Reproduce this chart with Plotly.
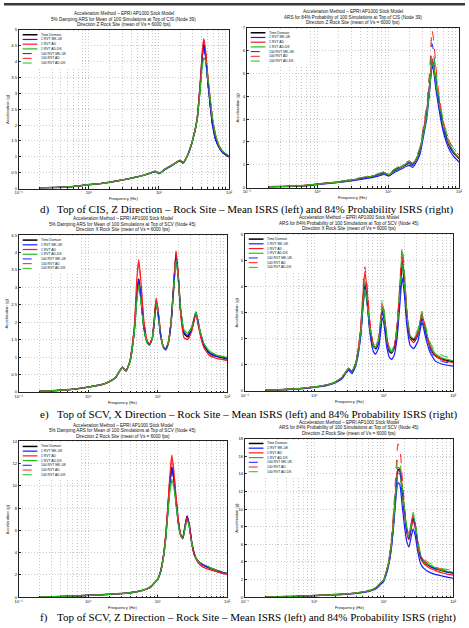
import plotly.graph_objects as go

W, H = 469, 628

NAMES = ["Time Domain", "1 RVT MK-UK", "1 RVT AD", "1 RVT AD-DK",
         "100 RVT MK-UK", "100 RVT AD", "100 RVT AD-DK"]
COLORS = ["#000000", "#1a1aff", "#ff1a1a", "#22bb22", "#1a1aff", "#ff1a1a", "#22bb22"]
DASHES = ["solid", "solid", "solid", "solid", "dash", "dash", "dash"]
WIDTHS = [1.5, 1.2, 1.2, 1.2, 1.0, 1.0, 1.0]

X_TICKS = [0.1, 1, 10, 100]
X_TICKTEXT = ["10\u207b\u00b9", "10\u2070", "10\u00b9", "10\u00b2"]
X_MINOR = [m * d for d in (0.1, 1, 10) for m in range(2, 10)]

# ---------------- d) Top of CIS, Z direction ----------------
F_D_MEAN = [0.2, 0.3, 0.5, 0.7, 1, 1.5, 2, 3, 5, 7, 8.8, 10.2, 12, 15, 18, 20, 22, 25,
            30, 35, 39, 41.5, 43.5, 46, 49, 53, 58, 64, 72, 82, 100]
D_MEAN_TD = [0.02, 0.03, 0.05, 0.08, 0.12, 0.16, 0.20, 0.27, 0.37, 0.46, 0.54, 0.48, 0.60, 0.72, 0.83, 0.88, 0.81, 1.00,
             1.50, 2.18, 3.35, 4.20, 4.55, 4.25, 3.55, 2.80, 2.05, 1.58, 1.30, 1.13, 1.00]
D_MEAN_MK1 = [0.02, 0.03, 0.05, 0.08, 0.12, 0.16, 0.20, 0.27, 0.37, 0.46, 0.53, 0.47, 0.59, 0.71, 0.82, 0.87, 0.80, 0.99,
              1.49, 2.17, 3.33, 4.15, 4.50, 4.20, 3.50, 2.75, 2.00, 1.55, 1.28, 1.12, 1.00]
D_MEAN_AD1 = [0.02, 0.03, 0.05, 0.08, 0.12, 0.16, 0.20, 0.27, 0.37, 0.46, 0.54, 0.48, 0.60, 0.73, 0.84, 0.89, 0.82, 1.01,
              1.51, 2.20, 3.40, 4.30, 4.72, 4.40, 3.70, 2.95, 2.20, 1.70, 1.35, 1.16, 1.02]
D_MEAN_DK1 = [0.02, 0.03, 0.05, 0.08, 0.12, 0.16, 0.20, 0.27, 0.37, 0.46, 0.54, 0.48, 0.60, 0.72, 0.83, 0.88, 0.81, 1.00,
              1.50, 2.15, 3.20, 3.85, 4.12, 4.05, 3.60, 2.95, 2.20, 1.70, 1.35, 1.16, 1.02]
D_MEAN_MK100 = [0.02, 0.03, 0.05, 0.08, 0.12, 0.16, 0.20, 0.27, 0.37, 0.46, 0.53, 0.47, 0.59, 0.71, 0.82, 0.87, 0.80, 0.99,
                1.49, 2.16, 3.32, 4.14, 4.48, 4.18, 3.48, 2.74, 2.00, 1.55, 1.28, 1.12, 1.00]
D_MEAN_AD100 = [0.02, 0.03, 0.05, 0.08, 0.12, 0.16, 0.20, 0.27, 0.37, 0.46, 0.54, 0.48, 0.60, 0.73, 0.84, 0.89, 0.82, 1.01,
                1.51, 2.19, 3.38, 4.27, 4.68, 4.37, 3.68, 2.93, 2.18, 1.69, 1.34, 1.15, 1.01]
D_MEAN_DK100 = [0.02, 0.03, 0.05, 0.08, 0.12, 0.16, 0.20, 0.27, 0.37, 0.46, 0.54, 0.48, 0.60, 0.72, 0.83, 0.88, 0.81, 1.00,
                1.50, 2.14, 3.18, 3.83, 4.10, 4.03, 3.58, 2.94, 2.19, 1.70, 1.35, 1.16, 1.02]

F_D_P84 = [0.2, 0.3, 0.5, 0.7, 1, 1.5, 2, 3, 5, 7, 8.8, 10.2, 12, 15, 18, 20, 22, 25,
           28, 31, 35, 38.5, 41.5, 44, 47, 51, 56, 62, 70, 82, 100]
D_P84_TD = [0.03, 0.04, 0.06, 0.09, 0.15, 0.20, 0.24, 0.32, 0.44, 0.54, 0.63, 0.55, 0.72, 0.88, 1.02, 1.06, 0.97, 1.25,
            1.60, 2.35, 3.30, 4.50, 5.50, 5.20, 4.50, 3.80, 3.05, 2.45, 1.95, 1.55, 1.27]
D_P84_MK1 = [0.03, 0.04, 0.055, 0.08, 0.13, 0.18, 0.22, 0.29, 0.40, 0.49, 0.57, 0.50, 0.65, 0.80, 0.93, 0.97, 0.88, 1.12,
             1.45, 2.15, 3.05, 4.30, 5.35, 5.05, 4.30, 3.60, 2.85, 2.25, 1.78, 1.40, 1.12]
D_P84_AD1 = [0.03, 0.04, 0.06, 0.09, 0.15, 0.20, 0.24, 0.33, 0.45, 0.55, 0.64, 0.56, 0.74, 0.90, 1.05, 1.09, 1.00, 1.28,
             1.65, 2.40, 3.35, 4.60, 5.65, 5.35, 4.60, 3.90, 3.15, 2.52, 2.02, 1.60, 1.30]
D_P84_DK1 = [0.03, 0.04, 0.06, 0.09, 0.15, 0.20, 0.24, 0.33, 0.45, 0.55, 0.64, 0.56, 0.73, 0.89, 1.04, 1.08, 0.99, 1.27,
             1.62, 2.30, 3.20, 4.40, 5.45, 5.25, 4.60, 3.90, 3.15, 2.52, 2.02, 1.60, 1.30]
D_P84_MK100 = [0.03, 0.04, 0.06, 0.09, 0.15, 0.20, 0.25, 0.33, 0.45, 0.56, 0.65, 0.57, 0.75, 0.92, 1.06, 1.10, 1.01, 1.30,
               1.68, 2.45, 3.45, 4.90, 6.30, 5.90, 4.90, 4.00, 3.15, 2.50, 1.98, 1.55, 1.22]
D_P84_AD100 = [0.03, 0.045, 0.065, 0.10, 0.16, 0.21, 0.26, 0.35, 0.48, 0.59, 0.69, 0.60, 0.79, 0.97, 1.12, 1.16, 1.06, 1.37,
               1.76, 2.60, 3.65, 5.20, 6.90, 6.40, 5.30, 4.30, 3.40, 2.70, 2.15, 1.72, 1.42]
D_P84_DK100 = [0.03, 0.045, 0.065, 0.10, 0.16, 0.21, 0.26, 0.35, 0.48, 0.59, 0.69, 0.60, 0.79, 0.97, 1.12, 1.16, 1.06, 1.36,
               1.74, 2.50, 3.50, 4.90, 5.95, 5.70, 5.00, 4.20, 3.40, 2.75, 2.20, 1.75, 1.45]

# ---------------- e) Top of SCV, X direction ----------------
F_E = [0.2, 0.3, 0.5, 0.7, 1, 1.5, 2, 2.5, 3.1, 3.5, 4.0, 4.6, 5.0, 5.35, 5.75, 6.3, 7.0, 7.6, 8.4, 9.0,
       9.5, 10.1, 11, 12, 13, 14.2, 15.6, 17, 18.4, 19.8, 21.5, 24, 27, 31, 35.5, 40, 46, 55, 70, 100]
E_MEAN_TD = [0.02, 0.03, 0.06, 0.09, 0.14, 0.20, 0.29, 0.42, 0.71, 0.60, 0.88, 1.75, 2.75, 3.25, 2.70, 1.90, 1.45, 1.35, 1.55, 2.10,
             2.55, 2.30, 1.65, 1.30, 1.22, 1.40, 2.00, 3.00, 3.95, 3.30, 2.30, 1.68, 1.58, 1.80, 2.28, 1.80, 1.35, 1.12, 1.02, 0.95]
E_MEAN_MK1 = [0.02, 0.03, 0.06, 0.09, 0.14, 0.20, 0.29, 0.42, 0.71, 0.60, 0.88, 1.74, 2.72, 3.22, 2.68, 1.89, 1.44, 1.35, 1.55, 2.08,
              2.53, 2.29, 1.65, 1.30, 1.22, 1.40, 1.99, 2.98, 3.92, 3.28, 2.30, 1.70, 1.62, 1.82, 2.27, 1.80, 1.36, 1.13, 1.03, 0.96]
E_MEAN_AD1 = [0.02, 0.03, 0.06, 0.09, 0.14, 0.20, 0.29, 0.42, 0.71, 0.60, 0.90, 1.85, 3.20, 3.80, 3.15, 2.10, 1.50, 1.36, 1.57, 2.20,
              2.70, 2.40, 1.70, 1.30, 1.20, 1.38, 2.00, 3.10, 4.05, 3.35, 2.20, 1.55, 1.50, 1.75, 2.25, 1.72, 1.28, 1.05, 0.96, 0.90]
E_MEAN_DK1 = [0.02, 0.03, 0.06, 0.09, 0.14, 0.20, 0.29, 0.42, 0.71, 0.60, 0.87, 1.70, 2.60, 3.05, 2.60, 1.85, 1.42, 1.34, 1.55, 2.05,
              2.52, 2.30, 1.65, 1.30, 1.23, 1.42, 2.00, 2.95, 3.80, 3.25, 2.35, 1.78, 1.68, 1.88, 2.30, 1.82, 1.40, 1.18, 1.06, 0.99]
E_MEAN_MK100 = [0.02, 0.03, 0.06, 0.09, 0.14, 0.20, 0.29, 0.42, 0.71, 0.60, 0.88, 1.74, 2.74, 3.24, 2.69, 1.89, 1.44, 1.35, 1.55, 2.09,
                2.54, 2.29, 1.65, 1.30, 1.22, 1.40, 1.99, 2.99, 3.94, 3.29, 2.29, 1.69, 1.60, 1.81, 2.28, 1.80, 1.35, 1.12, 1.02, 0.95]
E_MEAN_AD100 = [0.02, 0.03, 0.06, 0.09, 0.14, 0.20, 0.29, 0.42, 0.71, 0.60, 0.90, 1.83, 3.15, 3.75, 3.10, 2.08, 1.49, 1.36, 1.57, 2.18,
                2.67, 2.38, 1.69, 1.30, 1.20, 1.38, 2.00, 3.08, 4.02, 3.34, 2.21, 1.56, 1.51, 1.76, 2.26, 1.73, 1.29, 1.06, 0.97, 0.91]
E_MEAN_DK100 = [0.02, 0.03, 0.06, 0.09, 0.14, 0.20, 0.29, 0.42, 0.71, 0.60, 0.87, 1.71, 2.62, 3.08, 2.62, 1.86, 1.42, 1.34, 1.55, 2.06,
                2.53, 2.30, 1.65, 1.30, 1.23, 1.42, 2.00, 2.96, 3.82, 3.26, 2.34, 1.77, 1.67, 1.87, 2.30, 1.82, 1.40, 1.17, 1.05, 0.98]

E_P84_TD = [0.03, 0.04, 0.07, 0.10, 0.15, 0.22, 0.33, 0.50, 0.85, 0.73, 1.10, 2.10, 3.30, 4.05, 3.50, 2.40, 1.75, 1.62, 1.85, 2.50,
            3.10, 2.85, 2.00, 1.55, 1.45, 1.65, 2.40, 3.70, 4.98, 4.20, 2.90, 2.05, 1.95, 2.20, 2.82, 2.30, 1.70, 1.35, 1.20, 1.11]
E_P84_MK1 = [0.025, 0.035, 0.06, 0.09, 0.13, 0.20, 0.30, 0.46, 0.78, 0.66, 1.00, 1.95, 3.10, 3.96, 3.40, 2.25, 1.55, 1.40, 1.62, 2.20,
             2.80, 2.55, 1.70, 1.30, 1.20, 1.38, 2.05, 3.25, 4.34, 3.70, 2.50, 1.75, 1.62, 1.90, 2.63, 2.05, 1.50, 1.15, 1.02, 0.95]
E_P84_AD1 = [0.03, 0.04, 0.07, 0.10, 0.15, 0.22, 0.33, 0.50, 0.86, 0.74, 1.12, 2.20, 3.60, 4.57, 3.90, 2.60, 1.80, 1.65, 1.90, 2.60,
             3.20, 2.95, 2.05, 1.60, 1.48, 1.68, 2.45, 3.85, 5.16, 4.35, 2.95, 2.00, 1.85, 2.20, 2.95, 2.35, 1.72, 1.35, 1.18, 1.08]
E_P84_DK1 = [0.03, 0.04, 0.07, 0.10, 0.15, 0.22, 0.33, 0.50, 0.85, 0.73, 1.08, 2.00, 3.15, 3.90, 3.40, 2.40, 1.78, 1.66, 1.90, 2.55,
             3.15, 2.90, 2.05, 1.60, 1.50, 1.70, 2.45, 3.65, 4.85, 4.15, 2.95, 2.12, 2.00, 2.25, 2.85, 2.35, 1.78, 1.42, 1.26, 1.15]
E_P84_MK100 = [0.03, 0.04, 0.07, 0.10, 0.15, 0.22, 0.33, 0.49, 0.84, 0.72, 1.06, 2.02, 3.20, 4.10, 3.55, 2.40, 1.70, 1.55, 1.80, 2.42,
               3.00, 2.75, 1.90, 1.48, 1.38, 1.60, 2.30, 3.55, 4.78, 4.05, 2.75, 1.95, 1.85, 2.10, 2.75, 2.20, 1.62, 1.25, 1.12, 1.05]
E_P84_AD100 = [0.03, 0.045, 0.075, 0.11, 0.16, 0.23, 0.35, 0.52, 0.88, 0.76, 1.15, 2.30, 3.75, 4.75, 4.05, 2.70, 1.85, 1.70, 1.95, 2.70,
               3.33, 3.05, 2.10, 1.62, 1.50, 1.72, 2.55, 4.05, 5.50, 4.60, 3.05, 2.05, 1.95, 2.25, 2.98, 2.40, 1.75, 1.38, 1.20, 1.12]
E_P84_DK100 = [0.03, 0.045, 0.075, 0.11, 0.16, 0.23, 0.35, 0.52, 0.88, 0.76, 1.12, 2.15, 3.35, 4.20, 3.65, 2.55, 1.88, 1.75, 2.00, 2.75,
               3.46, 3.15, 2.20, 1.70, 1.56, 1.78, 2.55, 3.95, 5.38, 4.55, 3.10, 2.20, 2.09, 2.35, 3.05, 2.50, 1.88, 1.52, 1.35, 1.24]

# ---------------- f) Top of SCV, Z direction ----------------
F_F = [0.2, 0.3, 0.5, 0.7, 1, 1.5, 2, 3, 5, 7, 8, 9, 10, 11, 12, 13, 14, 15, 16, 17,
       18.5, 20, 21.5, 23, 24.5, 26.5, 28.5, 31, 34, 38, 45, 55, 70, 85, 100]
F_MEAN_TD = [0.03, 0.05, 0.08, 0.12, 0.17, 0.22, 0.26, 0.33, 0.50, 0.75, 0.95, 1.30, 1.60, 2.30, 3.50, 5.30, 7.80, 10.30, 11.70, 10.80,
             8.50, 6.60, 5.60, 5.35, 6.20, 7.30, 6.50, 4.90, 3.80, 3.25, 2.90, 2.65, 2.40, 2.22, 2.12]
F_MEAN_MK1 = [0.03, 0.05, 0.08, 0.12, 0.17, 0.22, 0.26, 0.33, 0.50, 0.75, 0.95, 1.28, 1.58, 2.25, 3.45, 5.25, 7.70, 10.20, 11.55, 10.70,
              8.40, 6.55, 5.55, 5.30, 6.15, 7.20, 6.45, 4.90, 3.80, 3.28, 2.92, 2.68, 2.42, 2.24, 2.14]
F_MEAN_AD1 = [0.03, 0.05, 0.08, 0.12, 0.17, 0.22, 0.26, 0.33, 0.50, 0.75, 0.95, 1.30, 1.62, 2.35, 3.60, 5.50, 8.20, 11.00, 12.80, 11.50,
              8.90, 6.80, 5.60, 5.30, 6.10, 7.20, 6.40, 4.80, 3.70, 3.10, 2.70, 2.50, 2.30, 2.15, 2.05]
F_MEAN_DK1 = [0.03, 0.05, 0.08, 0.12, 0.17, 0.22, 0.26, 0.33, 0.50, 0.75, 0.95, 1.30, 1.58, 2.25, 3.40, 5.10, 7.50, 9.50, 10.50, 10.00,
              8.20, 6.40, 5.50, 5.25, 6.00, 6.90, 6.30, 4.85, 3.80, 3.25, 2.95, 2.70, 2.45, 2.25, 2.15]
F_MEAN_MK100 = [0.03, 0.05, 0.08, 0.12, 0.17, 0.22, 0.26, 0.33, 0.50, 0.75, 0.95, 1.29, 1.59, 2.28, 3.48, 5.28, 7.75, 10.25, 11.62, 10.75,
                8.45, 6.58, 5.58, 5.32, 6.18, 7.25, 6.48, 4.90, 3.80, 3.27, 2.91, 2.66, 2.41, 2.23, 2.13]
F_MEAN_AD100 = [0.03, 0.05, 0.08, 0.12, 0.17, 0.22, 0.26, 0.33, 0.50, 0.75, 0.95, 1.30, 1.61, 2.33, 3.57, 5.45, 8.10, 10.85, 12.60, 11.40,
                8.85, 6.75, 5.60, 5.30, 6.10, 7.15, 6.40, 4.82, 3.72, 3.12, 2.72, 2.52, 2.32, 2.16, 2.06]
F_MEAN_DK100 = [0.03, 0.05, 0.08, 0.12, 0.17, 0.22, 0.26, 0.33, 0.50, 0.75, 0.95, 1.30, 1.58, 2.26, 3.42, 5.15, 7.55, 9.60, 10.62, 10.10,
                8.25, 6.42, 5.50, 5.25, 6.02, 6.95, 6.32, 4.85, 3.80, 3.25, 2.95, 2.70, 2.45, 2.25, 2.15]

F_P84_TD = [0.03, 0.05, 0.09, 0.13, 0.19, 0.25, 0.30, 0.38, 0.58, 0.88, 1.15, 1.60, 1.95, 2.90, 4.20, 6.20, 9.00, 12.30, 14.40, 14.50,
            12.00, 9.50, 7.50, 6.60, 7.70, 9.05, 8.00, 6.00, 4.60, 4.00, 3.60, 3.30, 3.00, 2.85, 2.77]
F_P84_MK1 = [0.03, 0.045, 0.08, 0.12, 0.17, 0.22, 0.27, 0.34, 0.52, 0.80, 1.05, 1.45, 1.80, 2.70, 3.90, 5.80, 8.40, 11.30, 13.00, 12.80,
             10.30, 7.90, 6.30, 5.70, 6.60, 7.75, 6.90, 5.10, 3.80, 3.25, 2.85, 2.60, 2.40, 2.25, 2.15]
F_P84_AD1 = [0.03, 0.05, 0.09, 0.13, 0.19, 0.25, 0.30, 0.38, 0.58, 0.88, 1.15, 1.60, 1.95, 2.95, 4.30, 6.40, 9.30, 12.60, 14.70, 14.60,
             12.00, 9.40, 7.30, 6.50, 7.50, 8.80, 7.80, 5.80, 4.40, 3.80, 3.35, 3.05, 2.75, 2.60, 2.50]
F_P84_DK1 = [0.03, 0.05, 0.09, 0.13, 0.19, 0.25, 0.30, 0.38, 0.58, 0.88, 1.15, 1.62, 1.95, 2.90, 4.20, 6.20, 8.90, 12.00, 14.00, 14.00,
             11.80, 9.40, 7.50, 6.80, 8.00, 9.30, 8.20, 6.10, 4.70, 4.05, 3.65, 3.35, 3.05, 2.90, 2.80]
F_P84_MK100 = [0.03, 0.05, 0.09, 0.13, 0.19, 0.25, 0.30, 0.38, 0.58, 0.88, 1.15, 1.60, 1.95, 2.90, 4.25, 6.30, 9.10, 12.40, 14.40, 14.30,
               11.80, 9.30, 7.30, 6.50, 7.60, 8.90, 7.90, 5.90, 4.50, 3.90, 3.50, 3.20, 2.95, 2.80, 2.70]
F_P84_AD100 = [0.03, 0.05, 0.09, 0.14, 0.20, 0.26, 0.31, 0.40, 0.61, 0.92, 1.20, 1.68, 2.05, 3.10, 4.60, 7.00, 10.30, 14.30, 17.40, 17.00,
               13.60, 10.20, 7.90, 7.20, 8.20, 9.40, 8.30, 6.20, 4.80, 4.15, 3.75, 3.45, 3.15, 3.00, 2.92]
F_P84_DK100 = [0.03, 0.05, 0.09, 0.14, 0.20, 0.26, 0.31, 0.40, 0.61, 0.92, 1.20, 1.68, 2.05, 3.05, 4.45, 6.70, 9.80, 13.40, 15.70, 15.50,
               12.70, 9.90, 7.80, 7.00, 8.30, 9.65, 8.50, 6.40, 4.95, 4.30, 3.90, 3.55, 3.25, 3.12, 3.07]

TITLE_L1 = "Acceleration Method – EPRI AP1000 Stick Model"
CAPTIONS = [
    ("d)", "Top of CIS, Z Direction – Rock Site – Mean ISRS (left) and 84% Probability ISRS (right)"),
    ("e)", "Top of SCV, X Direction – Rock Site – Mean ISRS (left) and 84% Probability ISRS (right)"),
    ("f)", "Top of SCV, Z Direction – Rock Site – Mean ISRS (left) and 84% Probability ISRS (right)"),
]

PANELS = [
    dict(box=(15, 229, 27, 187), ymax=5, dtick=0.5, freq=F_D_MEAN,
         series=[D_MEAN_TD, D_MEAN_MK1, D_MEAN_AD1, D_MEAN_DK1, D_MEAN_MK100, D_MEAN_AD100, D_MEAN_DK100],
         title=[TITLE_L1, "5% Damping ARS for Mean of 100 Simulations at Top of CIS (Node 39)",
                "Direction Z Rock Site (mean of Vs = 6000 fps)"], ylab_x=3),
    dict(box=(247, 463, 25, 186), ymax=7, dtick=1, freq=F_D_P84,
         series=[D_P84_TD, D_P84_MK1, D_P84_AD1, D_P84_DK1, D_P84_MK100, D_P84_AD100, D_P84_DK100],
         title=[TITLE_L1, "ARS for 84% Probability of 100 Simulations at Top of CIS (Node 39)",
                "Direction Z Rock Site (mean of Vs = 6000 fps)"], ylab_x=238),
    dict(box=(15, 227, 234, 392), ymax=4.5, dtick=0.5, freq=F_E,
         series=[E_MEAN_TD, E_MEAN_MK1, E_MEAN_AD1, E_MEAN_DK1, E_MEAN_MK100, E_MEAN_AD100, E_MEAN_DK100],
         title=[TITLE_L1, "5% Damping ARS for Mean of 100 Simulations at Top of SCV (Node 45)",
                "Direction X Rock Site (mean of Vs = 6000 fps)"], ylab_x=3),
    dict(box=(245, 457, 233, 391), ymax=6, dtick=1, freq=F_E,
         series=[E_P84_TD, E_P84_MK1, E_P84_AD1, E_P84_DK1, E_P84_MK100, E_P84_AD100, E_P84_DK100],
         title=[TITLE_L1, "ARS for 84% Probability of 100 Simulations at Top of SCV (Node 45)",
                "Direction X Rock Site (mean of Vs = 6000 fps)"], ylab_x=237),
    dict(box=(15, 227, 442, 599), ymax=14, dtick=2, freq=F_F,
         series=[F_MEAN_TD, F_MEAN_MK1, F_MEAN_AD1, F_MEAN_DK1, F_MEAN_MK100, F_MEAN_AD100, F_MEAN_DK100],
         title=[TITLE_L1, "5% Damping ARS for Mean of 100 Simulations at Top of SCV (Node 45)",
                "Direction Z Rock Site (mean of Vs = 6000 fps)"], ylab_x=3),
    dict(box=(245, 457, 439, 599), ymax=18, dtick=2, freq=F_F,
         series=[F_P84_TD, F_P84_MK1, F_P84_AD1, F_P84_DK1, F_P84_MK100, F_P84_AD100, F_P84_DK100],
         title=[TITLE_L1, "ARS for 84% Probability of 100 Simulations at Top of SCV (Node 45)",
                "Direction Z Rock Site (mean of Vs = 6000 fps)"], ylab_x=237),
]

FONT = "Liberation Sans, DejaVu Sans, Arial, sans-serif"
SERIF = "Liberation Serif, Times New Roman, serif"
GRID = "#c8c8c8"
GRIDDASH = "1px,2px"


def px(x):
    return x / W


def py(y):
    return 1 - y / H


fig = go.Figure()
annotations = []
shapes = [dict(type="rect", xref="paper", yref="paper", x0=0, x1=1, y0=py(2.5), y1=1,
               fillcolor="#3a3a3a", line=dict(width=0), layer="above")]
layout_axes = {}

for i, p in enumerate(PANELS):
    k = "" if i == 0 else str(i + 1)
    x0, x1, y0, y1 = p["box"]
    for s in p["series"]:
        assert len(s) == len(p["freq"])
    for j, s in enumerate(p["series"]):
        fig.add_trace(go.Scatter(
            x=p["freq"], y=s, mode="lines", name=NAMES[j], showlegend=False,
            hoverinfo="skip", xaxis="x" + k, yaxis="y" + k,
            line=dict(color=COLORS[j], width=WIDTHS[j], dash=DASHES[j], shape="spline", smoothing=0.45)))

    common = dict(showline=True, mirror=True, linecolor="#222", linewidth=0.7,
                  ticks="inside", ticklen=2.5, tickwidth=0.5, tickcolor="#222",
                  showgrid=True, gridcolor=GRID, gridwidth=0.7, griddash=GRIDDASH,
                  zeroline=False, tickfont=dict(size=4.2, family=FONT, color="#111"))
    layout_axes["xaxis" + k] = dict(
        common, domain=[px(x0), px(x1)], anchor="y" + k, type="log", range=[-1, 2],
        tickmode="array", tickvals=X_TICKS, ticktext=X_TICKTEXT,
        minor=dict(tickmode="array", tickvals=X_MINOR, showgrid=True, gridcolor=GRID,
                   gridwidth=0.7, griddash=GRIDDASH, ticks="inside", ticklen=1.5, tickcolor="#222"))
    layout_axes["yaxis" + k] = dict(
        common, domain=[py(y1), py(y0)], anchor="x" + k, range=[0, p["ymax"]],
        tick0=0, dtick=p["dtick"])

    cx = (x0 + x1) / 2
    for t, off in zip(p["title"], (-16.5, -10.8, -5.2)):
        annotations.append(dict(text=t, x=px(cx), y=py(y0 + off), xref="paper", yref="paper",
                                showarrow=False, xanchor="center", yanchor="middle",
                                font=dict(size=4.6, family=FONT, color="#111")))
    annotations.append(dict(text="Frequency (Hz)", x=px(cx), y=py(y1 + 10.5), xref="paper", yref="paper",
                            showarrow=False, xanchor="center", yanchor="middle",
                            font=dict(size=4.2, family=FONT, color="#111")))
    annotations.append(dict(text="Acceleration (g)", x=px(p["ylab_x"]), y=py((y0 + y1) / 2),
                            xref="paper", yref="paper", showarrow=False, textangle=-90,
                            xanchor="center", yanchor="middle",
                            font=dict(size=4.2, family=FONT, color="#111")))

    # legend box (inside top-left)
    lx, ly = x0 + 4, y0 + 5
    shapes.append(dict(type="rect", xref="paper", yref="paper", x0=px(x0 + 2), x1=px(x0 + 62),
                       y0=py(y0 + 38), y1=py(y0 + 1.5), fillcolor="white", line=dict(width=0),
                       layer="above"))
    for j, nm in enumerate(NAMES):
        yy = ly + j * 4.75
        shapes.append(dict(type="line", xref="paper", yref="paper", x0=px(lx), x1=px(lx + 15),
                           y0=py(yy), y1=py(yy), layer="above",
                           line=dict(color=COLORS[j], width=WIDTHS[j], dash=DASHES[j])))
        annotations.append(dict(text=nm, x=px(lx + 16.5), y=py(yy), xref="paper", yref="paper",
                                showarrow=False, xanchor="left", yanchor="middle",
                                font=dict(size=3.4, family=FONT, color="#111")))

for (lab, txt), yc in zip(CAPTIONS, (208, 415, 619)):
    annotations.append(dict(text=lab, x=px(35), y=py(yc), xref="paper", yref="paper", showarrow=False,
                            xanchor="left", yanchor="middle",
                            font=dict(size=11, family=SERIF, color="#000")))
    annotations.append(dict(text=txt, x=px(52), y=py(yc), xref="paper", yref="paper", showarrow=False,
                            xanchor="left", yanchor="middle",
                            font=dict(size=11, family=SERIF, color="#000")))

fig.update_layout(width=W, height=H, autosize=False, margin=dict(l=0, r=0, t=0, b=0),
                  paper_bgcolor="white", plot_bgcolor="white", showlegend=False,
                  annotations=annotations, shapes=shapes, **layout_axes)

fig.write_html("out.html")
